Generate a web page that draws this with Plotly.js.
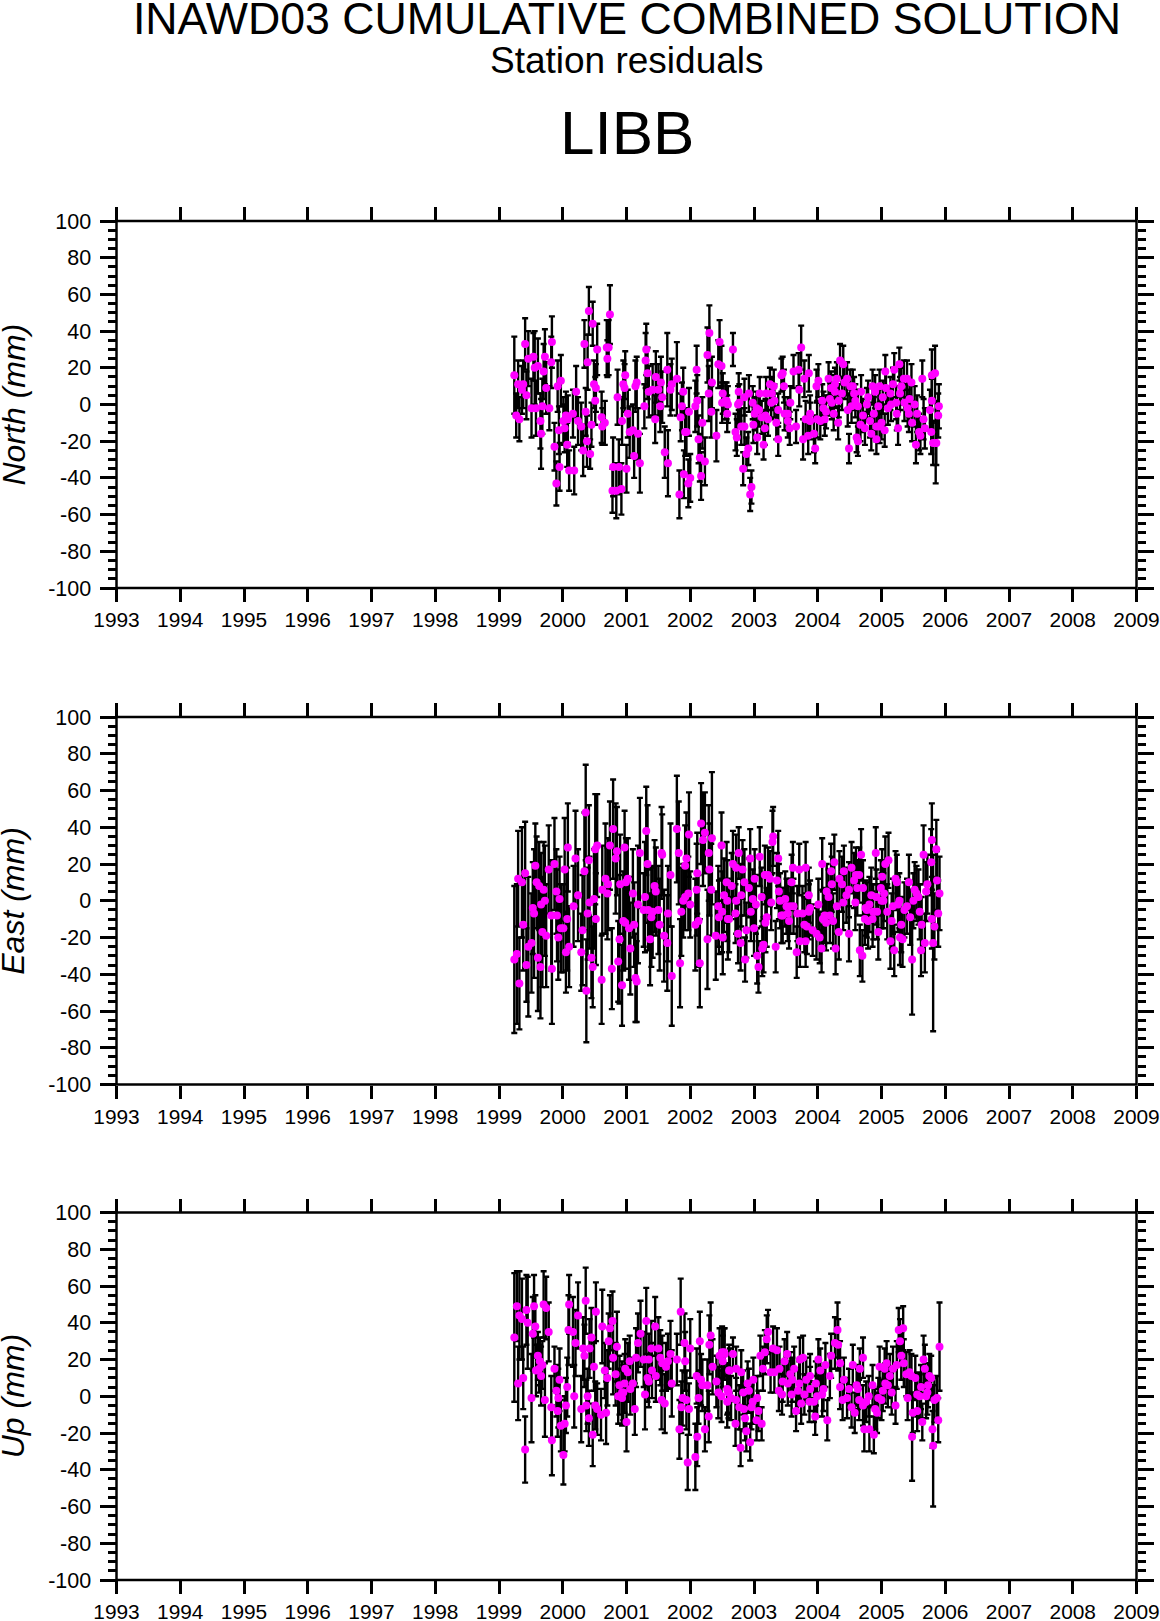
<!DOCTYPE html>
<html><head><meta charset="utf-8">
<script src="https://cdn.plot.ly/plotly-3.0.1.min.js"></script>
<style>html,body{margin:0;padding:0;background:#fff}</style></head>
<body><div id="chart" style="width:1160px;height:1621px"></div>
<script>
// each row: decimal year, residual (mm), one-sided error (mm)
const northRows=[[1999.24,16,21],[1999.27,-6,12],[1999.30,11,13],[1999.32,-8,12],[1999.36,8,13],[1999.38,11,13],[1999.41,33,14],[1999.43,5,13],[1999.46,25,15],[1999.51,-2,16],[1999.54,26,13],[1999.56,20,20],[1999.58,-2,15],[1999.61,21,15],[1999.65,-9,15],[1999.66,-16,19],[1999.68,-1,15],[1999.70,18,15],[1999.72,26,15],[1999.74,9,14],[1999.79,-2,12],[1999.82,23,14],[1999.83,34,14],[1999.87,-23,13],[1999.90,-43,12],[1999.92,10,14],[1999.94,-14,13],[1999.95,-34,13],[1999.97,13,14],[2000.01,-9,13],[2000.03,-13,13],[2000.05,-6,13],[2000.07,-22,12],[2000.08,-8,13],[2000.10,-36,11],[2000.16,-5,13],[2000.18,-36,13],[2000.21,7,14],[2000.24,-9,13],[2000.29,-12,13],[2000.32,-25,14],[2000.34,33,13],[2000.36,-4,13],[2000.38,-20,14],[2000.39,23,15],[2000.41,51,13],[2000.43,-27,8],[2000.45,-11,12],[2000.47,44,12],[2000.49,11,13],[2000.51,2,13],[2000.52,9,13],[2000.54,30,14],[2000.61,-7,14],[2000.62,-12,10],[2000.66,-10,12],[2000.69,31,15],[2000.70,25,10],[2000.72,31,15],[2000.74,49,16],[2000.78,-47,12],[2000.79,-34,16],[2000.84,-47,15],[2000.86,4,15],[2000.88,-34,15],[2000.92,-46,14],[2000.93,-9,13],[2000.95,11,13],[2000.97,9,13],[2000.98,16,13],[2001.00,-35,13],[2001.02,-5,13],[2001.05,-15,14],[2001.10,-14,14],[2001.12,-28,12],[2001.14,10,14],[2001.16,12,14],[2001.18,-16,14],[2001.21,-32,16],[2001.28,-1,12],[2001.30,24,15],[2001.31,30,14],[2001.33,17,14],[2001.35,7,14],[2001.41,8,14],[2001.45,-8,13],[2001.46,15,14],[2001.50,8,14],[2001.53,-1,14],[2001.54,12,14],[2001.56,4,14],[2001.60,-26,14],[2001.64,19,20],[2001.65,-32,18],[2001.69,8,14],[2001.71,11,14],[2001.79,14,20],[2001.83,-49,13],[2001.85,-7,13],[2001.87,-1,13],[2001.89,7,13],[2001.90,-38,13],[2001.92,-15,13],[2001.94,-15,13],[2001.97,-43,13],[2001.98,-4,13],[2002.00,-40,13],[2002.08,-1,14],[2002.10,19,13],[2002.11,2,14],[2002.13,-19,13],[2002.15,-29,13],[2002.17,-39,13],[2002.19,-10,14],[2002.23,-31,13],[2002.27,27,15],[2002.29,6,15],[2002.30,39,15],[2002.33,-4,14],[2002.34,12,14],[2002.41,-17,14],[2002.44,22,13],[2002.46,34,12],[2002.49,21,11],[2002.50,1,11],[2002.51,6,11],[2002.55,2,10],[2002.57,2,10],[2002.58,-5,10],[2002.59,0,10],[2002.67,30,9],[2002.71,-15,10],[2002.73,-18,10],[2002.75,0,10],[2002.76,7,10],[2002.77,1,10],[2002.80,-12,10],[2002.83,-35,9],[2002.85,4,10],[2002.85,-12,10],[2002.88,-27,9],[2002.91,-24,9],[2002.92,6,10],[2002.94,-49,9],[2002.96,-45,9],[2002.98,1,9],[2002.99,-11,10],[2003.01,-5,9],[2003.04,-2,9],[2003.05,-18,9],[2003.08,-3,9],[2003.09,6,9],[2003.12,-7,9],[2003.15,-22,8],[2003.17,-13,9],[2003.18,-6,9],[2003.19,6,9],[2003.22,-8,9],[2003.25,11,9],[2003.27,1,9],[2003.28,6,9],[2003.31,10,9],[2003.32,2,9],[2003.35,-10,9],[2003.38,-3,9],[2003.38,-19,9],[2003.43,16,9],[2003.45,17,9],[2003.47,10,9],[2003.48,-5,9],[2003.53,-5,9],[2003.53,-9,9],[2003.56,-13,9],[2003.57,1,9],[2003.62,18,9],[2003.66,-12,9],[2003.70,19,9],[2003.71,8,9],[2003.74,31,12],[2003.77,-19,11],[2003.79,14,10],[2003.81,-8,10],[2003.85,-17,10],[2003.86,17,10],[2003.88,-5,10],[2003.88,-9,10],[2003.94,-16,10],[2003.96,-24,8],[2003.98,10,9],[2003.99,-8,10],[2004.01,13,9],[2004.04,-9,10],[2004.07,2,9],[2004.09,-2,9],[2004.11,-8,9],[2004.13,-4,9],[2004.17,14,9],[2004.19,3,9],[2004.21,9,9],[2004.22,1,9],[2004.25,-5,9],[2004.27,11,9],[2004.27,7,9],[2004.30,14,9],[2004.32,-10,9],[2004.33,2,9],[2004.35,24,9],[2004.38,6,9],[2004.40,22,10],[2004.42,12,9],[2004.46,14,9],[2004.47,-3,9],[2004.49,-24,8],[2004.51,10,9],[2004.53,-1,9],[2004.55,10,9],[2004.57,6,9],[2004.59,2,9],[2004.61,-18,8],[2004.63,-1,9],[2004.63,-20,8],[2004.67,-11,9],[2004.68,7,9],[2004.71,-6,9],[2004.74,-13,9],[2004.77,0,9],[2004.79,4,9],[2004.82,-9,9],[2004.84,-16,9],[2004.86,10,9],[2004.88,-5,9],[2004.90,7,9],[2004.92,-12,8],[2004.92,-19,8],[2004.95,-1,9],[2004.97,10,9],[2004.97,-12,9],[2005.00,-10,9],[2005.02,4,9],[2005.05,-14,9],[2005.06,18,9],[2005.07,9,9],[2005.10,-2,9],[2005.14,6,9],[2005.15,0,9],[2005.18,11,9],[2005.20,19,9],[2005.23,1,9],[2005.24,-5,9],[2005.26,-13,9],[2005.28,22,9],[2005.29,6,9],[2005.31,10,10],[2005.35,14,10],[2005.36,1,10],[2005.40,14,10],[2005.41,-2,10],[2005.43,-5,10],[2005.44,3,10],[2005.47,12,10],[2005.48,-10,10],[2005.52,0,10],[2005.54,-22,10],[2005.56,-5,10],[2005.59,-15,10],[2005.61,-17,10],[2005.64,14,10],[2005.66,-8,11],[2005.68,-13,11],[2005.76,-3,11],[2005.78,-15,12],[2005.79,2,12],[2005.79,16,14],[2005.81,-21,12],[2005.84,17,15],[2005.85,-21,22],[2005.86,-21,12],[2005.89,-6,12],[2005.90,-1,12]];
const eastRows=[[1999.24,-32,40],[1999.28,-29,38],[1999.30,12,26],[1999.32,-45,25],[1999.36,10,30],[1999.38,-13,25],[1999.41,15,28],[1999.43,-35,20],[1999.46,-25,38],[1999.51,-23,27],[1999.53,-4,25],[1999.55,-7,35],[1999.57,19,23],[1999.59,10,25],[1999.61,-31,29],[1999.63,8,24],[1999.65,-36,28],[1999.66,-2,28],[1999.68,-17,30],[1999.70,6,26],[1999.72,0,30],[1999.74,-19,28],[1999.78,17,24],[1999.82,-8,30],[1999.83,-37,30],[1999.87,20,25],[1999.90,5,23],[1999.91,-8,25],[1999.93,-20,23],[1999.95,1,23],[1999.97,-15,24],[2000.01,-15,24],[2000.03,17,28],[2000.05,-28,22],[2000.07,-10,28],[2000.08,29,24],[2000.10,-25,22],[2000.17,-3,22],[2000.20,23,26],[2000.24,3,25],[2000.29,-28,21],[2000.31,-16,30],[2000.34,16,32],[2000.36,48,26],[2000.37,-49,28],[2000.39,-7,25],[2000.41,22,30],[2000.42,-1,25],[2000.45,-31,22],[2000.47,-36,22],[2000.49,1,27],[2000.51,28,30],[2000.52,-10,25],[2000.54,30,28],[2000.61,-43,24],[2000.62,6,24],[2000.67,12,30],[2000.70,4,25],[2000.71,9,25],[2000.74,30,24],[2000.77,-37,22],[2000.79,39,27],[2000.83,23,30],[2000.85,27,24],[2000.87,-33,22],[2000.89,-21,35],[2000.90,9,27],[2000.93,-46,22],[2000.95,-11,27],[2000.97,29,20],[2000.98,-12,25],[2000.99,10,24],[2001.02,12,22],[2001.04,-15,28],[2001.06,-26,25],[2001.10,4,24],[2001.12,-13,23],[2001.14,-42,24],[2001.16,-44,22],[2001.18,-2,32],[2001.21,26,30],[2001.27,-5,20],[2001.29,2,30],[2001.31,38,24],[2001.33,20,32],[2001.34,-5,22],[2001.37,-21,25],[2001.39,-9,27],[2001.41,-6,25],[2001.44,8,25],[2001.46,5,24],[2001.50,-5,24],[2001.52,-13,25],[2001.55,26,25],[2001.56,25,22],[2001.59,-19,25],[2001.64,-23,26],[2001.65,-7,26],[2001.69,14,28],[2001.71,-41,27],[2001.79,39,29],[2001.82,26,28],[2001.84,-34,24],[2001.86,-6,24],[2001.89,0,20],[2001.92,2,18],[2001.92,19,22],[2001.94,23,25],[2001.97,4,20],[2001.98,36,23],[2002.00,-2,18],[2002.08,-13,25],[2002.10,6,25],[2002.11,15,22],[2002.13,-11,25],[2002.15,-34,24],[2002.17,42,22],[2002.20,33,25],[2002.23,37,22],[2002.27,-21,27],[2002.29,26,26],[2002.30,17,25],[2002.33,6,25],[2002.34,34,36],[2002.40,-19,24],[2002.44,-3,22],[2002.45,-9,20],[2002.49,30,18],[2002.50,-6,22],[2002.51,-20,20],[2002.53,3,20],[2002.57,10,22],[2002.58,0,22],[2002.59,-10,22],[2002.61,-10,18],[2002.65,8,18],[2002.67,20,18],[2002.71,-7,16],[2002.72,18,18],[2002.72,0,18],[2002.75,-18,16],[2002.76,26,14],[2002.79,-23,15],[2002.80,3,17],[2002.82,17,16],[2002.85,10,18],[2002.86,-32,12],[2002.88,-16,15],[2002.92,7,16],[2002.94,23,16],[2002.95,-6,16],[2002.98,1,16],[2003.00,-15,15],[2003.01,12,16],[2003.03,-2,16],[2003.05,-30,15],[2003.07,-36,14],[2003.09,24,16],[2003.12,2,16],[2003.13,-26,15],[2003.15,-24,15],[2003.17,14,16],[2003.18,-12,16],[2003.20,-9,16],[2003.22,14,15],[2003.25,12,15],[2003.27,-1,15],[2003.29,32,17],[2003.30,35,16],[2003.34,-25,14],[2003.36,11,15],[2003.38,23,15],[2003.39,5,15],[2003.41,0,15],[2003.43,-8,15],[2003.45,-8,15],[2003.49,1,15],[2003.51,-3,15],[2003.53,-7,15],[2003.55,-11,15],[2003.57,-3,15],[2003.59,10,15],[2003.61,18,14],[2003.62,-3,15],[2003.67,-28,14],[2003.68,-7,15],[2003.71,17,14],[2003.72,-22,14],[2003.76,-7,15],[2003.79,-13,15],[2003.81,18,14],[2003.81,-22,14],[2003.83,-14,15],[2003.86,3,15],[2003.86,-6,15],[2003.88,-4,15],[2003.92,-16,14],[2003.98,-18,14],[2004.01,-2,14],[2004.03,-20,14],[2004.06,-26,13],[2004.07,20,14],[2004.08,-10,15],[2004.11,-8,15],[2004.13,-12,15],[2004.14,5,15],[2004.17,2,15],[2004.19,-8,15],[2004.21,16,15],[2004.22,9,15],[2004.24,-11,15],[2004.26,21,15],[2004.28,-26,14],[2004.30,-3,15],[2004.33,-17,15],[2004.34,12,15],[2004.38,9,15],[2004.40,-1,15],[2004.41,16,14],[2004.45,3,15],[2004.49,6,15],[2004.49,-18,15],[2004.53,18,14],[2004.57,11,15],[2004.59,-1,15],[2004.60,14,15],[2004.62,7,15],[2004.65,14,15],[2004.66,-27,14],[2004.68,25,14],[2004.70,-30,14],[2004.71,7,15],[2004.74,-10,14],[2004.75,-4,15],[2004.77,-5,15],[2004.79,-11,15],[2004.81,-2,15],[2004.84,3,15],[2004.86,-10,15],[2004.87,-6,15],[2004.91,26,14],[2004.92,2,15],[2004.93,-6,15],[2004.95,-17,15],[2004.99,7,15],[2005.00,0,15],[2005.01,13,15],[2005.03,0,15],[2005.04,4,15],[2005.06,20,15],[2005.09,-6,15],[2005.11,22,15],[2005.14,-22,15],[2005.16,-11,15],[2005.18,-3,15],[2005.20,-27,14],[2005.22,12,15],[2005.24,10,15],[2005.26,-2,15],[2005.28,0,15],[2005.29,-20,15],[2005.31,-13,15],[2005.33,-21,15],[2005.36,-5,15],[2005.40,-3,15],[2005.43,10,15],[2005.45,-9,15],[2005.48,-32,30],[2005.50,0,15],[2005.52,6,15],[2005.55,4,15],[2005.58,2,15],[2005.60,-6,15],[2005.62,-27,14],[2005.63,-13,15],[2005.66,25,16],[2005.68,-23,16],[2005.70,5,16],[2005.72,9,16],[2005.78,21,18],[2005.79,33,20],[2005.79,-10,16],[2005.81,-23,48],[2005.83,-14,18],[2005.86,28,16],[2005.87,11,16],[2005.89,-7,18],[2005.91,4,20]];
const upRows=[[1999.24,32,35],[1999.28,49,19],[1999.30,7,20],[1999.32,44,24],[1999.36,42,22],[1999.38,10,17],[1999.41,-29,18],[1999.43,47,19],[1999.45,40,25],[1999.51,-1,24],[1999.53,34,20],[1999.55,49,17],[1999.57,38,17],[1999.58,14,14],[1999.61,22,13],[1999.63,15,13],[1999.64,19,13],[1999.66,11,16],[1999.68,17,13],[1999.70,50,18],[1999.72,-2,20],[1999.74,48,17],[1999.78,35,16],[1999.82,-6,17],[1999.83,-24,19],[1999.87,15,12],[1999.90,3,14],[1999.92,-8,14],[1999.93,-1,16],[1999.95,9,17],[1999.97,-16,14],[2000.01,-32,16],[2000.03,-15,15],[2000.05,-5,15],[2000.07,5,16],[2000.09,36,19],[2000.10,50,16],[2000.16,35,19],[2000.18,0,17],[2000.20,29,18],[2000.24,44,18],[2000.29,-7,18],[2000.32,26,17],[2000.34,22,17],[2000.36,52,18],[2000.37,-5,14],[2000.39,0,15],[2000.41,-12,15],[2000.42,26,16],[2000.45,32,16],[2000.47,-21,17],[2000.49,16,13],[2000.51,-5,13],[2000.52,46,16],[2000.54,-7,14],[2000.60,-10,14],[2000.62,38,20],[2000.66,14,15],[2000.68,-9,17],[2000.70,10,15],[2000.72,30,15],[2000.74,37,18],[2000.78,41,16],[2000.79,21,20],[2000.83,12,17],[2000.85,27,19],[2000.87,0,15],[2000.89,6,16],[2000.93,2,17],[2000.93,-1,15],[2000.95,2,15],[2000.97,7,16],[2000.98,15,16],[2001.00,-14,16],[2001.02,13,16],[2001.05,19,14],[2001.06,4,14],[2001.10,7,14],[2001.13,-7,14],[2001.15,21,16],[2001.18,29,16],[2001.22,34,18],[2001.27,20,15],[2001.29,1,19],[2001.31,41,18],[2001.33,10,13],[2001.35,20,14],[2001.35,8,14],[2001.39,26,15],[2001.40,14,15],[2001.45,38,16],[2001.46,11,14],[2001.50,26,17],[2001.53,21,15],[2001.55,-2,16],[2001.56,18,15],[2001.60,-4,16],[2001.62,16,13],[2001.65,19,15],[2001.69,23,18],[2001.71,7,18],[2001.79,20,14],[2001.83,-18,16],[2001.85,46,18],[2001.86,-6,14],[2001.88,-1,15],[2001.91,29,16],[2001.92,19,16],[2001.94,-2,16],[2001.96,-36,15],[2001.98,-7,14],[2002.00,26,16],[2002.08,-33,18],[2002.10,11,15],[2002.11,-22,16],[2002.13,-1,14],[2002.15,30,16],[2002.17,9,14],[2002.19,6,14],[2002.23,-18,12],[2002.27,6,14],[2002.29,-11,14],[2002.30,28,16],[2002.32,33,18],[2002.35,16,15],[2002.41,8,14],[2002.44,2,14],[2002.46,22,15],[2002.49,0,14],[2002.50,24,14],[2002.51,19,14],[2002.53,24,13],[2002.54,23,14],[2002.58,4,14],[2002.58,-3,14],[2002.59,3,12],[2002.60,2,14],[2002.61,14,14],[2002.62,14,12],[2002.64,-1,12],[2002.67,23,9],[2002.71,-15,12],[2002.72,15,12],[2002.72,-2,12],[2002.77,-6,12],[2002.79,-28,10],[2002.80,13,12],[2002.83,2,12],[2002.84,-7,12],[2002.86,-12,12],[2002.88,-19,11],[2002.90,7,12],[2002.92,3,12],[2002.94,-25,10],[2002.96,-6,12],[2002.98,-3,12],[2002.99,9,12],[2003.04,-13,11],[2003.05,-1,12],[2003.07,-8,11],[2003.10,22,11],[2003.12,-15,9],[2003.14,15,12],[2003.17,24,12],[2003.20,31,13],[2003.22,35,12],[2003.26,13,11],[2003.30,26,12],[2003.32,13,11],[2003.36,25,12],[2003.39,3,11],[2003.40,15,12],[2003.44,1,11],[2003.45,8,11],[2003.48,19,12],[2003.52,23,12],[2003.53,7,12],[2003.57,12,12],[2003.59,1,12],[2003.60,9,12],[2003.63,15,12],[2003.66,-8,11],[2003.69,3,12],[2003.71,7,12],[2003.72,20,12],[2003.74,-4,11],[2003.77,21,12],[2003.79,1,11],[2003.82,9,12],[2003.87,-3,11],[2003.88,11,12],[2003.88,4,12],[2003.94,-3,11],[2003.96,-11,10],[2003.97,7,12],[2003.99,0,11],[2004.01,20,11],[2004.04,14,12],[2004.07,1,12],[2004.09,4,12],[2004.12,17,12],[2004.15,-13,11],[2004.19,11,12],[2004.21,22,12],[2004.27,29,14],[2004.31,36,15],[2004.32,28,14],[2004.35,18,12],[2004.35,5,12],[2004.39,-2,11],[2004.41,9,12],[2004.46,-1,11],[2004.49,4,11],[2004.53,-6,11],[2004.55,17,11],[2004.58,-9,11],[2004.61,6,11],[2004.63,4,11],[2004.65,-2,11],[2004.66,15,11],[2004.71,21,11],[2004.71,-5,11],[2004.73,-18,12],[2004.76,-3,11],[2004.80,0,11],[2004.81,-18,12],[2004.86,6,11],[2004.88,-21,10],[2004.90,-7,11],[2004.93,-9,11],[2004.95,-1,11],[2004.97,16,11],[2005.00,-2,11],[2005.02,3,11],[2005.05,15,11],[2005.06,7,11],[2005.08,18,12],[2005.10,6,12],[2005.13,11,12],[2005.16,2,12],[2005.18,15,12],[2005.22,-5,10],[2005.24,17,13],[2005.27,36,12],[2005.29,30,12],[2005.31,22,13],[2005.34,37,12],[2005.35,18,13],[2005.39,12,12],[2005.41,-1,12],[2005.44,13,12],[2005.47,11,12],[2005.48,-22,24],[2005.49,-9,11],[2005.53,10,12],[2005.56,1,12],[2005.56,-8,11],[2005.60,0,12],[2005.62,5,12],[2005.64,-14,10],[2005.66,20,13],[2005.68,15,13],[2005.70,0,12],[2005.72,2,12],[2005.73,6,12],[2005.75,11,12],[2005.78,10,12],[2005.80,-18,10],[2005.81,-27,33],[2005.83,-2,12],[2005.87,-1,12],[2005.89,-13,12],[2005.91,27,24]];

const yearRange=[1993,2009], mmRange=[-100,100];
const mmTicks=[-100,-80,-60,-40,-20,0,20,40,60,80,100];
const mmLabels=['-100','-80','-60','-40','-20','0','20','40','60','80','100'];
const panelTitles=['North (mm)','East (mm)','Up (mm)'];
const mainTitle='INAWD03 CUMULATIVE COMBINED SOLUTION', subTitle='Station residuals', station='LIBB';
const W=1160,H=1621,left=116.5,right=1136.5;
const panelTops=[221,717,1212.5], panelBottoms=[588,1084.5,1580];
const FONT='Liberation Sans, Arial, Helvetica, sans-serif';

const traces=[northRows,eastRows,upRows].map((r,i)=>({
  type:'scatter',mode:'markers',xaxis:i?'x'+(i+1):'x',yaxis:i?'y'+(i+1):'y',
  x:r.map(d=>d[0]),y:r.map(d=>d[1]),
  marker:{color:'#ff00ff',size:8,line:{width:0}},
  error_y:{type:'data',symmetric:true,array:r.map(d=>d[2]),visible:true,color:'#000',thickness:2.4,width:3},
  showlegend:false,hoverinfo:'x+y'
}));

const layout={width:W,height:H,paper_bgcolor:'#fff',plot_bgcolor:'#fff',showlegend:false,
  margin:{l:0,r:0,t:0,b:0},font:{family:FONT,color:'#000'},
  title:{text:mainTitle,font:{family:FONT,size:44.7,color:'#000'},x:627/W,xanchor:'center',y:1-18/H,yanchor:'middle',pad:{t:0,b:0,l:0,r:0}},
  annotations:[
   {text:subTitle,xref:'paper',yref:'paper',x:627/W,y:1-61/H,xanchor:'center',yanchor:'middle',showarrow:false,font:{size:37,family:FONT,color:'#000'}},
   {text:station,xref:'paper',yref:'paper',x:627/W,y:1-132/H,xanchor:'center',yanchor:'middle',showarrow:false,font:{size:62,family:FONT,color:'#000'}}
  ].concat(panelTitles.map((t,i)=>({text:'<i>'+t+'</i>',xref:'paper',yref:'paper',x:13/W,y:1-(panelTops[i]+panelBottoms[i])/2/H,xanchor:'center',yanchor:'middle',textangle:-90,showarrow:false,font:{size:32,family:FONT,color:'#000'}}))),
  shapes:panelTops.map((t,i)=>({type:'rect',xref:'paper',yref:'paper',x0:left/W,x1:right/W,y0:1-panelBottoms[i]/H,y1:1-t/H,line:{color:'#000',width:2.5},fillcolor:'rgba(0,0,0,0)',layer:'above'}))
};
panelTitles.forEach((t,i)=>{
  const s=i?String(i+1):'';
  layout['xaxis'+s]={domain:[left/W,right/W],range:yearRange,anchor:'y'+s,dtick:1,tick0:1993,tickformat:'d',
    ticks:'outside',ticklen:13,tickwidth:2.5,tickcolor:'#000',showline:false,mirror:'ticks',
    showgrid:false,zeroline:false,tickangle:0,tickfont:{size:20.9,family:FONT,color:'#000'},ticklabelstandoff:0};
  layout['yaxis'+s]={domain:[1-panelBottoms[i]/H,1-panelTops[i]/H],range:mmRange,anchor:'x'+s,tickmode:'array',tickvals:mmTicks,ticktext:mmLabels,
    ticks:'outside',ticklen:16,tickwidth:2.5,tickcolor:'#000',showline:false,mirror:'ticks',
    showgrid:false,zeroline:false,tickfont:{size:21.5,family:FONT,color:'#000'},ticklabelstandoff:4,
    minor:{dtick:5,tick0:-100,ticks:'outside',ticklen:8,tickwidth:2.5,tickcolor:'#000',showgrid:false}};
});
Plotly.newPlot('chart',traces,layout,{displayModeBar:false,responsive:false});
</script></body></html>
